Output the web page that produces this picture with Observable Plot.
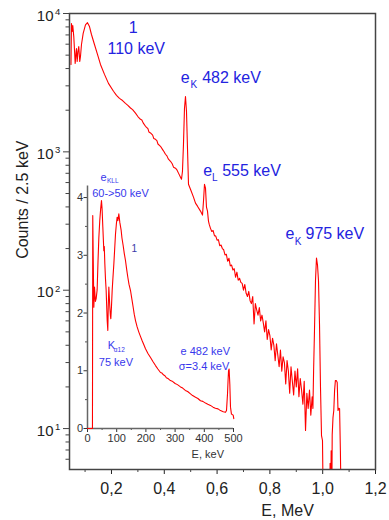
<!DOCTYPE html>
<html><head><meta charset="utf-8">
<script src="https://cdn.jsdelivr.net/npm/d3@7"></script>
<script src="https://cdn.jsdelivr.net/npm/@observablehq/plot@0.6"></script>
<style>
body{margin:0;background:#fff;}
#wrap{position:relative;width:389px;height:520px;}
#wrap svg{position:absolute;left:0;top:0;}
</style></head><body><div id="wrap"></div>
<script>
// ---- main spectrum: E (MeV) and counts per 2.5 keV ----
const mainE = [
0.0466,0.0485,0.0511,0.0534,0.0572,0.0598,0.0625,0.0655,0.0674,0.0701,0.0731,0.0761,0.0799,0.0826,0.0864,0.0928,0.1015,0.1091,0.1167,0.1242,
0.1356,0.1470,0.1583,0.1735,0.1886,0.2076,0.2190,0.2303,0.2420,0.2530,0.2620,0.2720,0.2800,0.2909,0.3000,0.3098,0.3150,0.3200,0.3288,0.3380,
0.3420,0.3477,0.3560,0.3600,0.3667,0.3720,0.3760,0.3856,0.3950,0.3980,0.4045,0.4100,0.4150,0.4235,0.4300,0.4350,0.4424,0.4480,0.4538,0.4614,
0.4652,0.4689,0.4727,0.4765,0.4803,0.4841,0.4879,0.4917,0.4992,0.5106,0.5182,0.5258,0.5371,0.5447,0.5485,0.5523,0.5561,0.5598,0.5636,0.5674,
0.570,0.575,0.580,0.585,0.590,0.595,0.600,0.605,0.610,0.615,0.620,0.625,0.630,0.635,0.640,0.645,0.650,0.655,0.660,0.665,
0.670,0.675,0.680,0.685,0.690,0.695,0.700,0.705,0.710,0.715,0.720,0.725,0.730,0.735,0.740,0.745,0.750,0.755,0.760,0.765,
0.770,0.775,0.780,0.785,0.790,0.795,0.800,0.805,0.810,0.815,0.820,0.825,0.830,0.835,0.840,0.845,0.850,0.855,0.860,0.865,
0.870,0.875,0.880,0.885,0.890,0.895,0.900,0.905,0.910,0.915,0.920,0.925,0.930,0.935,0.940,0.945,0.950,0.955,0.960,
0.963,0.9655,0.9689,0.9727,0.9765,0.9803,0.9841,0.9879,0.9917,0.9955,0.9992,1.003,1.015,1.026,1.028,1.030,1.032,1.034,1.036,1.039,
1.042,1.045,1.048,1.052,1.055,1.058,1.061,1.064,1.067,1.071,1.085];
const mainCounts = [
4285,8460,7410,8190,6810,5500,4360,5140,5580,4500,5310,5770,4500,4890,5970,7190,8280,8590,8050,7050,
5970,5060,4285,3630,3125,2740,2560,2435,2350,2240,2170,2075,2020,1905,1800,1718,1700,1620,1531,1470,
1390,1369,1320,1250,1233,1205,1140,1097,1030,1010,961,935,890,855,820,775,762,740,702,656,
634,724,1135,2060,2515,1963,1062,583,537,471,426,405,373,349,440,583,547,399,373,316,
300,280,266,270,248,246,230,232,210,212,200,196,180,182,162,170,150,152,140,143,
124,135,118,122,114,112,100,110,95,90,98,84,80,90,57,80,72,66,75,60,
66,58,50,60,44,52,47,37,45,40,31,41,34,28,37,26,33,30,21,31,
26,18,28,22,17.5,26,20,27,17,23,19,15,22,9.7,18,14,19,12.5,17,
14,26,51,117,171,152,117,57,19.7,8.9,8.2,2,2,2,5.6,2,6.9,2,9,12,
13.5,18.8,22.2,22.2,21.5,13.5,14,13.9,6.9,2,2];

// ---- inset spectrum: E (keV) and counts (arb. units) ----
const insetKeV = [0,5,10,16,17,18,19.5,21.7,24,27,29.7,33,36,38.8,42,45,47.9,50,52.5,55.9,57.5,59.4,61.5,63.9,67.4,
69.6,71,73.1,74.5,76.5,78.5,79.9,82,84.5,87,90.2,93,95.9,99,101.6,104,107.3,110.7,113,115.3,118,122.1,126,130.1,134,
138.1,142,147.3,152,156.4,160,164.4,170,175.8,181,187.2,193,198.6,207,215.8,224,232.9,241,250,255,260,266,270,277,284,
290,300,308,318.5,326,335,343,352.7,360,370,378,387,395,404,412,421,430,438,447,455.5,465,472.6,476,479.5,481.5,
483,485,487.4,489.7,493,496,499,501];
const insetValues = [0,0,0,0,0,3.69,3.0,2.10,2.45,2.2,2.25,2.4,2.9,3.3,3.6,3.8,3.95,3.8,3.49,3.08,3.15,2.85,2.6,2.39,1.87,
1.70,2.1,2.45,2.3,2.10,1.95,1.90,2.1,2.39,2.6,2.85,3.1,3.37,3.55,3.66,3.6,3.72,3.57,3.5,3.43,3.3,3.17,3.03,2.91,2.76,
2.62,2.5,2.39,2.24,2.10,1.98,1.87,1.76,1.67,1.60,1.52,1.45,1.38,1.30,1.23,1.16,1.09,1.03,0.97,0.96,0.93,0.91,0.88,0.86,0.83,
0.82,0.78,0.76,0.72,0.70,0.66,0.64,0.60,0.57,0.54,0.52,0.48,0.47,0.44,0.42,0.40,0.37,0.35,0.34,0.31,0.29,0.28,0.31,0.60,0.85,
1.00,1.03,0.77,0.37,0.25,0.24,0.23,0.17];

// ---- ticks ----
const xMajor = [0.2,0.4,0.6,0.8,1.0,1.2];
const xMinor = [0.1,0.3,0.5,0.7,0.9,1.1];
const yMajor = [10,100,1000,10000];
const yExp = ["1","2","3","4"];
const yMinor = [6,7,8,9,20,30,40,50,60,70,80,90,200,300,400,500,600,700,800,900,2000,3000,4000,5000,6000,7000,8000,9000];
const insetXMajor = [0,100,200,300,400,500];
const insetXMinor = [50,150,250,350,450];
const insetYMajor = [0,1,2,3,4];
const insetYMinor = [0.5,1.5,2.5,3.5];

// ---- annotations (data coordinates) ----
const mainLabels = [
  {E:0.2655, c:7195, t:"1"},
  {E:0.1848, c:5118, t:"110 keV"},
  {E:0.4625, c:3141, t:"e"},
  {E:0.5436, c:3141, t:"482 keV"},
  {E:0.5473, c:667, t:"e"},
  {E:0.6193, c:667, t:"555 keV"},
  {E:0.859, c:233, t:"e"},
  {E:0.9348, c:233, t:"975 keV"}
];
const mainSubs = [
  {E:0.4992, c:2874, t:"K"},
  {E:0.5807, c:614, t:"L"},
  {E:0.8943, c:212, t:"K"}
];
const insetLabels = [
  {k:44.5, v:4.29, t:"e"},
  {k:16, v:4.005, t:"60->50 keV"},
  {k:69.5, v:1.38, t:"K"},
  {k:38.8, v:1.074, t:"75 keV"},
  {k:318.5, v:1.276, t:"e 482 keV"},
  {k:312.7, v:1.016, t:"σ=3.4 keV"}
];
const insetSubs = [
  {k:66.8, v:4.25, t:"KLL"},
  {k:90, v:1.333, t:"α12"}
];
const insetPeakLabel = [{k:150.7, v:3.05, t:"1"}];

const main = mainE.map((E,i)=>({E, c: mainCounts[i]}));
const insetData = insetKeV.map((k,i)=>({k, v: insetValues[i]}));

const font = "'Liberation Sans', Arial, Helvetica, sans-serif";
const blue = "#2323e0";
const blue2 = "#3838ec";

const mainPlot = Plot.plot({
  width: 389, height: 520,
  marginLeft: 69, marginRight: 14, marginTop: 13, marginBottom: 51,
  style: {fontFamily: font, background: "transparent", overflow: "visible"},
  x: {domain: [0.041, 1.2], label: null},
  y: {type: "log", domain: [5.06, 10000], label: null},
  marks: [
    Plot.axisX({ticks: xMinor, tickSize: 3, tickFormat: () => "", color: "#444"}),
    Plot.axisX({ticks: xMajor, tickSize: 5, tickPadding: 8, fontSize: 16, color: "#222",
      tickFormat: d => d.toFixed(1).replace(".", ",")}),
    Plot.axisY({ticks: yMinor, tickSize: 3.5, tickFormat: () => "", color: "#444"}),
    Plot.axisY({ticks: yMajor, tickSize: 6, tickFormat: () => "", color: "#444"}),
    Plot.text(yMajor, {y: d => d, frameAnchor: "left", text: () => "10", textAnchor: "end",
      lineAnchor: "bottom", dx: -16, dy: 7, fontSize: 15, fill: "#222"}),
    Plot.text(yMajor, {y: d => d, frameAnchor: "left", text: (d, i) => yExp[i], textAnchor: "start",
      lineAnchor: "bottom", dx: -14.5, dy: 1.5, fontSize: 9.5, fill: "#222"}),
    Plot.line(main, {x: "E", y: "c", stroke: "#ff0000", strokeWidth: 1.1, clip: true}),
    Plot.frame({stroke: "#444", strokeWidth: 1.5}),
    Plot.text(mainLabels, {x: "E", y: "c", text: "t", fontSize: 16, fill: blue, textAnchor: "start", lineAnchor: "bottom"}),
    Plot.text(mainSubs, {x: "E", y: "c", text: "t", fontSize: 10, fill: blue, textAnchor: "start", lineAnchor: "bottom"}),
    Plot.text(["E, MeV"], {x: () => 0.867, frameAnchor: "bottom", text: d => d, fontSize: 16, fill: "#222",
      textAnchor: "middle", lineAnchor: "bottom", dy: 46}),
    Plot.text(["Counts / 2.5 keV"], {y: () => 451, frameAnchor: "left", text: d => d, fontSize: 16, fill: "#222",
      rotate: -90, textAnchor: "middle", lineAnchor: "bottom", dx: -41.7})
  ]
});

const insetPlot = Plot.plot({
  width: 389, height: 520,
  marginLeft: 87, marginRight: 156, marginTop: 185.5, marginBottom: 92,
  style: {fontFamily: font, background: "transparent", overflow: "visible"},
  x: {domain: [0, 500], label: null},
  y: {domain: [0, 4.2], label: null},
  marks: [
    Plot.axisX({ticks: insetXMinor, tickSize: 2, tickFormat: () => "", color: "#555"}),
    Plot.axisX({ticks: insetXMajor, tickSize: 4, tickPadding: 2, fontSize: 11, color: "#333", tickFormat: d => String(d)}),
    Plot.axisY({ticks: insetYMinor, tickSize: 2, tickFormat: () => "", color: "#555"}),
    Plot.axisY({ticks: insetYMajor, tickSize: 3.5, tickPadding: 1, fontSize: 11, color: "#333", tickFormat: d => String(d)}),
    Plot.ruleX([0], {stroke: "#666", strokeWidth: 1.5}),
    Plot.ruleY([0], {stroke: "#666", strokeWidth: 1.5}),
    Plot.line(insetData, {x: "k", y: "v", stroke: "#ff0000", strokeWidth: 1.1}),
    Plot.text(insetLabels, {x: "k", y: "v", text: "t", fontSize: 11, fill: blue2, textAnchor: "start", lineAnchor: "bottom"}),
    Plot.text(insetSubs, {x: "k", y: "v", text: "t", fontSize: 6.5, fill: blue2, textAnchor: "start", lineAnchor: "bottom"}),
    Plot.text(insetPeakLabel, {x: "k", y: "v", text: "t", fontSize: 10, fill: "#3a3aa8", textAnchor: "start", lineAnchor: "bottom"}),
    Plot.text(["E, keV"], {x: () => 412, frameAnchor: "bottom", text: d => d, fontSize: 11, fill: "#333",
      textAnchor: "middle", lineAnchor: "bottom", dy: 29})
  ]
});

const wrap = document.getElementById("wrap");
wrap.appendChild(mainPlot);
wrap.appendChild(insetPlot);
</script>
</body></html>
